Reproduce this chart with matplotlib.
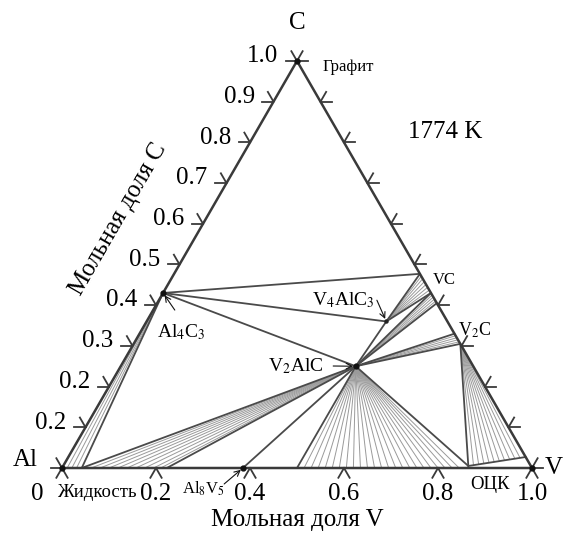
import numpy as np
import matplotlib
matplotlib.use("Agg")
import matplotlib.pyplot as plt

plt.rcParams['font.family'] = ['Liberation Serif', 'DejaVu Serif']
plt.rcParams['mathtext.fontset'] = 'stix'

# compositions as (x_V, x_C)
liquid = (0.042, 0.0)
al4c3 = (0.0, 0.43)
graphite = (0.0, 1.0)
vc = (0.523, 0.477)
v2c = (0.695, 0.305)
v2alc = (0.5, 0.25)
v4alc3 = (0.51, 0.36)
al8v5 = (0.385, 0.0)
bcc_left = (0.5, 0.0)
bcc_right = (0.862, 0.005)
bcc_v_end = (0.973, 0.027)
vc_low = (0.57, 0.43)
vc_mid = (0.595, 0.405)
v2c_high = (0.67, 0.33)

# tie-lines: liquid (x_V on Al-V edge) -> Al4C3
liq_al4c3_v = [0.0, 0.011, 0.021, 0.031]
# liquid -> V2AlC
liq_v2alc_v = [0.062, 0.081, 0.100, 0.119, 0.138, 0.157, 0.176, 0.195, 0.210]
# bcc -> V2AlC
bcc_v2alc_v = [0.515, 0.53, 0.545, 0.56, 0.575, 0.59, 0.605, 0.62, 0.635, 0.65,
               0.665, 0.68, 0.695, 0.71, 0.725, 0.74, 0.755, 0.77, 0.785, 0.80,
               0.815, 0.83, 0.845]
# V2C -> bcc boundary points
v2c_bcc_pts = [(0.872, 0.007), (0.882, 0.009), (0.892, 0.011), (0.902, 0.013),
               (0.912, 0.015), (0.922, 0.017), (0.932, 0.019), (0.942, 0.021),
               (0.952, 0.023), (0.962, 0.025)]
# V2AlC -> V2C edge
v2alc_v2c_c = [0.31, 0.315, 0.32, 0.325]
# V2AlC -> VC edge
v2alc_vc_c = [0.41, 0.415, 0.42, 0.425]
# V4AlC3 -> VC edge
v4_vc_c = [0.437, 0.444, 0.451, 0.458, 0.465, 0.471]

left_ticks = [0.1, 0.2, 0.3, 0.4, 0.5, 0.6, 0.7, 0.8, 0.9]
left_labels = ['0.2', '0.2', '0.3', '0.4', '0.5', '0.6', '0.7', '0.8', '0.9']
bottom_ticks = [0.2, 0.4, 0.6, 0.8]
bottom_labels = ['0.2', '0.4', '0.6', '0.8']

S3 = np.sqrt(3) / 2


def tern(p):
    v, c = p
    return v + c / 2, c * S3


def seg(ax, p, q, lw=1.3, color='#4a4a4a', z=2):
    x1, y1 = tern(p)
    x2, y2 = tern(q)
    ax.plot([x1, x2], [y1, y2], color=color, lw=lw, zorder=z, solid_capstyle='round')


def tick(ax, p, angles, length=0.024):
    x, y = tern(p)
    for a in angles:
        r = np.deg2rad(a)
        ax.plot([x, x + length * np.cos(r)], [y, y + length * np.sin(r)],
                color='#3a3a3a', lw=1.3, zorder=3)


fig = plt.figure(figsize=(5.64, 5.36), dpi=100)
ax = fig.add_axes([0, 0, 1, 1])
ax.set_xlim(-62 / 470, 502 / 470)
ax.set_ylim(-68 / 470, 468 / 470)
ax.axis('off')

thin = dict(lw=0.7, color='#9a9a9a', z=1)

# tie-line fans
for v in liq_al4c3_v:
    seg(ax, (v, 0.0), al4c3, **thin)
for v in liq_v2alc_v:
    seg(ax, (v, 0.0), v2alc, **thin)
for v in bcc_v2alc_v:
    seg(ax, (v, 0.0), v2alc, **thin)
for p in v2c_bcc_pts:
    seg(ax, v2c, p, **thin)
for c in v2alc_v2c_c:
    seg(ax, v2alc, (1 - c, c), **thin)
for c in v2alc_vc_c:
    seg(ax, v2alc, (1 - c, c), **thin)
for c in v4_vc_c:
    seg(ax, v4alc3, (1 - c, c), **thin)

# phase boundaries / three-phase triangles
seg(ax, liquid, al4c3)
seg(ax, liquid, v2alc)
seg(ax, al4c3, v2alc)
seg(ax, al4c3, v4alc3)
seg(ax, al4c3, vc)
seg(ax, v4alc3, vc)
seg(ax, v4alc3, vc_low)
seg(ax, v2alc, v4alc3)
seg(ax, v2alc, vc_low)
seg(ax, v2alc, vc_mid)
seg(ax, v2alc, v2c_high)
seg(ax, v2alc, v2c)
seg(ax, (0.223, 0.0), v2alc)
seg(ax, al8v5, v2alc)
seg(ax, bcc_left, v2alc)
seg(ax, bcc_right, v2alc)
seg(ax, bcc_right, v2c)
seg(ax, bcc_right, bcc_v_end)

# triangle frame
tri = [(0, 0), (1, 0), (0, 1), (0, 0)]
xs, ys = zip(*[tern(p) for p in tri])
ax.plot(xs, ys, color='#3a3a3a', lw=1.8, zorder=3)

# ticks
for c in left_ticks:
    tick(ax, (0, c), [180, 120])
for c in left_ticks:
    tick(ax, (1 - c, c), [0, 60])
for v in bottom_ticks:
    tick(ax, (v, 0), [240, 300])
tick(ax, (0, 0), [180, 120, 240, 300])
tick(ax, (1, 0), [0, 60, 240, 300])
tick(ax, (0, 1), [180, 120, 0, 60])

# phase points
for p in [al4c3, graphite, v2alc, al8v5, (0, 0), (1, 0)]:
    x, y = tern(p)
    ax.plot(x, y, 'o', ms=3.5, color='#111111', zorder=4)
x, y = tern(v4alc3)
ax.plot(x, y, 'o', ms=2.2, color='#222222', zorder=4)

fs = 18
for c, lab in zip(left_ticks, left_labels):
    x, y = tern((0, c))
    ax.text(x - 0.040, y + 0.010, lab, ha='right', va='center', fontsize=fs)
x, y = tern((0, 1))
ax.text(x - 0.040, y + 0.010, '1.0', ha='right', va='center', fontsize=fs)
for v, lab in zip(bottom_ticks, bottom_labels):
    ax.text(v, -0.055, lab, ha='center', va='center', fontsize=fs)
ax.text(-0.052, -0.055, '0', ha='center', va='center', fontsize=fs)
ax.text(1.0, -0.055, '1.0', ha='center', va='center', fontsize=fs)

ax.text(0.5, 1.0 * S3 + 0.08, 'C', ha='center', va='center', fontsize=fs)
ax.text(-0.078, 0.018, 'Al', ha='center', va='center', fontsize=fs)
ax.text(1.028, 0.0, 'V', ha='left', va='center', fontsize=fs)
ax.text(0.815, 0.715, '1774 K', ha='center', va='center', fontsize=fs)
ax.text(0.5, -0.11, 'Мольная доля V', ha='center', va='center', fontsize=fs)
ax.text(0.12, 0.53, 'Мольная доля C', ha='center', va='center', fontsize=fs,
        rotation=60)

ax.text(0.555, 0.853, 'Графит', ha='left', va='center', fontsize=12)
ax.text(0.074, -0.053, 'Жидкость', ha='center', va='center', fontsize=13.5)
ax.text(0.91, -0.036, 'ОЦК', ha='center', va='center', fontsize=13.5)
ax.text(0.813, 0.40, 'VC', ha='center', va='center', fontsize=12)
ax.text(0.879, 0.294, 'V$_2$C', ha='center', va='center', fontsize=13)
ax.text(0.598, 0.357, 'V$_4$AlC$_3$', ha='center', va='center', fontsize=14)
ax.text(0.498, 0.217, 'V$_2$AlC', ha='center', va='center', fontsize=14)
ax.text(0.253, 0.29, 'Al$_4$C$_3$', ha='center', va='center', fontsize=14)
ax.text(0.3, -0.044, 'Al$_8$V$_5$', ha='center', va='center', fontsize=12)

arrow = dict(arrowstyle='->', color='#111111', lw=0.8, shrinkA=0, shrinkB=2)
ax.annotate('', xy=tern(al4c3), xytext=(0.24, 0.336), arrowprops=arrow)
ax.annotate('', xy=tern(v4alc3), xytext=(0.67, 0.357), arrowprops=arrow)
ax.annotate('', xy=tern(v2alc), xytext=(0.577, 0.217), arrowprops=arrow)
ax.annotate('', xy=tern(al8v5), xytext=(0.345, -0.034), arrowprops=arrow)

fig.savefig('out.png', dpi=100)
